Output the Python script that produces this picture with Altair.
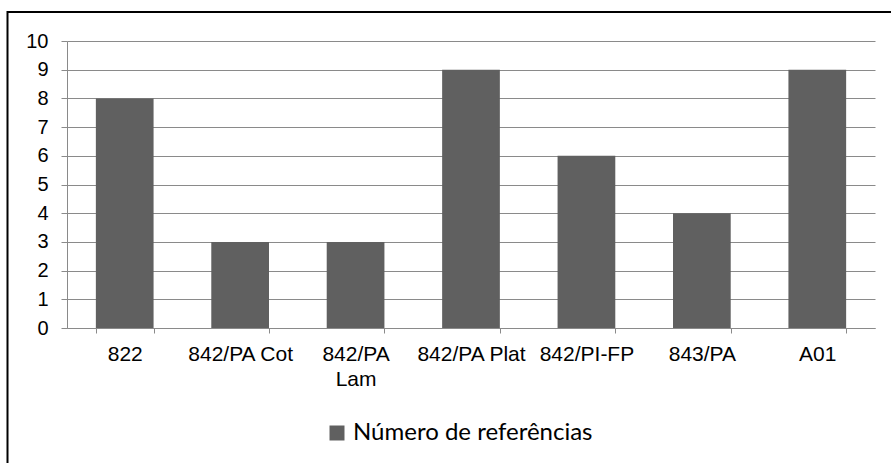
import altair as alt
import pandas as pd

# Number of references per code
categories = ["822", "842/PA Cot", "842/PA Lam", "842/PA Plat", "842/PI-FP", "843/PA", "A01"]
values = [8, 3, 3, 9, 6, 4, 9]
series_name = "Número de referências"
y_ticks = list(range(0, 11))

df = pd.DataFrame({
    "codigo": categories,
    "refs": values,
    "serie": [series_name] * len(categories),
})

BAR = "#606060"
GRID = "#8a8a8a"
AXIS_FONT = "Liberation Sans"

# plot area geometry (pixels)
LEFT, TOP, W, H = 67, 41, 808, 287

bars = alt.Chart(df).mark_bar().encode(
    x=alt.X(
        "codigo:N",
        sort=categories,
        title=None,
        scale=alt.Scale(paddingInner=0.5, paddingOuter=0.25),
        axis=alt.Axis(
            labelAngle=0,
            tickBand="extent",
            tickSize=5,
            tickColor=GRID,
            domainColor=GRID,
            labelFont=AXIS_FONT,
            labelFontSize=21,
            labelColor="black",
            labelPadding=10,
            labelLineHeight=25,
            labelExpr="datum.label == '842/PA Lam' ? ['842/PA', 'Lam'] : datum.label",
        ),
    ),
    y=alt.Y(
        "refs:Q",
        title=None,
        scale=alt.Scale(domain=[0, 10], nice=False),
        axis=alt.Axis(
            values=y_ticks,
            grid=True,
            gridColor=GRID,
            gridWidth=1,
            tickSize=6,
            tickColor=GRID,
            domainColor=GRID,
            labelFont=AXIS_FONT,
            labelFontSize=20,
            labelColor="black",
            labelPadding=13,
        ),
    ),
    color=alt.Color(
        "serie:N",
        scale=alt.Scale(range=[BAR]),
        legend=alt.Legend(
            title=None,
            orient="none",
            legendX=258,
            legendY=380,
            padding=0,
            symbolType="square",
            symbolSize=225,
            symbolStrokeWidth=0,
            labelFont="Lato",
            labelFontSize=24,
            labelColor="black",
            labelOffset=4,
            labelLimit=0,
        ),
    ),
)

# chart frame (left and top edges)
frame_src = pd.DataFrame({"k": [0]})
frame_top = alt.Chart(frame_src).mark_rule(color="black", strokeWidth=2).encode(
    x=alt.value(7.5 - LEFT), x2=alt.value(900), y=alt.value(12 - TOP)
)
frame_left = alt.Chart(frame_src).mark_rule(color="black", strokeWidth=2).encode(
    x=alt.value(7.5 - LEFT), y=alt.value(11 - TOP), y2=alt.value(500)
)

chart = alt.layer(bars, frame_top, frame_left).properties(
    width=W,
    height=H,
    autosize="none",
    padding={"left": LEFT, "top": TOP, "right": 891 - LEFT - W, "bottom": 463 - TOP - H},
    background="white",
).configure_view(stroke=None)

chart.save("out.html", embed_options={"renderer": "svg", "actions": False})
